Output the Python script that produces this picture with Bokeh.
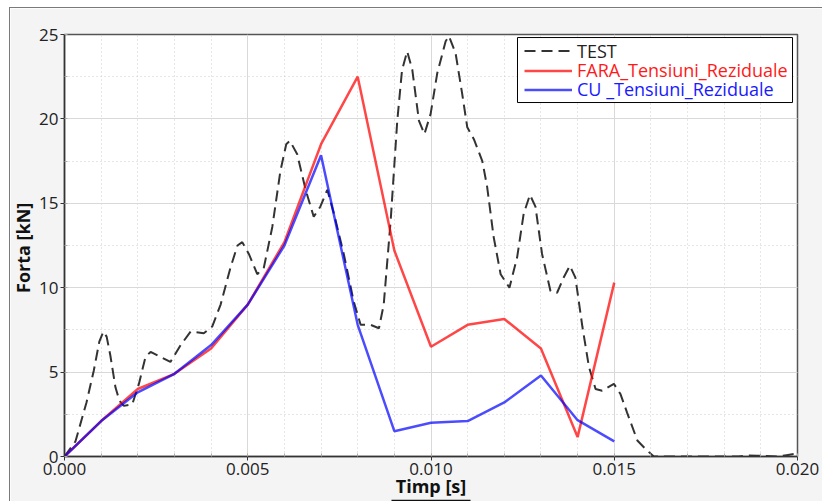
from bokeh.plotting import figure
from bokeh.models import (Legend, LegendItem, BoxAnnotation, FixedTicker,
                          NumeralTickFormatter, Range1d, Title, LinearAxis)
from bokeh.embed import file_html
from bokeh.resources import INLINE

# ---- data ----
fara_t = [0.000, 0.001, 0.002, 0.003, 0.004, 0.005, 0.006, 0.007, 0.008,
          0.009, 0.010, 0.011, 0.012, 0.013, 0.014, 0.015]
fara_f = [0.0, 2.1, 4.0, 4.9, 6.4, 9.0, 12.7, 18.5, 22.5,
          12.2, 6.5, 7.8, 8.15, 6.4, 1.15, 10.3]

cu_t = [0.000, 0.001, 0.002, 0.003, 0.004, 0.005, 0.006, 0.007, 0.008,
        0.009, 0.010, 0.011, 0.012, 0.013, 0.014, 0.015]
cu_f = [0.0, 2.1, 3.8, 4.9, 6.6, 9.0, 12.5, 17.85, 7.8,
        1.5, 2.0, 2.1, 3.2, 4.8, 2.15, 0.9]

test_t = [0.0000, 0.0003, 0.0006, 0.0008, 0.00095, 0.00106, 0.00115, 0.00125,
          0.00139, 0.0015, 0.00162, 0.00185, 0.00203, 0.00221, 0.00235, 0.00262,
          0.00289, 0.00317, 0.00344, 0.0038, 0.00403, 0.00426, 0.00453, 0.00472,
          0.00485, 0.00503, 0.00526, 0.00544, 0.00567, 0.00589, 0.00605, 0.00615,
          0.00635, 0.00658, 0.0068, 0.00698, 0.00717, 0.00735, 0.00762, 0.00789,
          0.00808, 0.00835, 0.00858, 0.00871, 0.0089, 0.00908, 0.00921, 0.00935,
          0.00949, 0.00967, 0.00982, 0.00999, 0.01017, 0.0104, 0.01049, 0.01067,
          0.01085, 0.01099, 0.01117, 0.0114, 0.01153, 0.01171, 0.0119, 0.01214,
          0.01235, 0.01253, 0.0127, 0.01285, 0.01303, 0.01326, 0.01344, 0.01362,
          0.01379, 0.01394, 0.01413, 0.01431, 0.01449, 0.01467, 0.01499, 0.01517,
          0.01535, 0.01563, 0.01585, 0.01608, 0.0184, 0.0186, 0.0189, 0.0195,
          0.0197, 0.0199, 0.0200]
test_f = [0.0, 0.9, 3.2, 5.1, 6.8, 7.4, 7.1, 6.0,
          4.1, 3.3, 3.0, 3.1, 4.3, 5.9, 6.2, 5.9,
          5.6, 6.6, 7.4, 7.3, 7.7, 9.0, 11.2, 12.5,
          12.7, 12.0, 10.8, 11.2, 13.6, 16.9, 18.5, 18.7,
          17.9, 15.8, 14.2, 14.8, 15.8, 14.4, 12.0, 9.2,
          7.8, 7.8, 7.6, 9.0, 14.0, 19.9, 22.9, 24.0,
          22.9, 19.9, 19.1, 20.3, 22.7, 24.6, 24.9, 23.9,
          21.5, 19.5, 18.8, 17.5, 16.0, 13.0, 10.8, 10.0,
          11.8, 14.4, 15.5, 14.8, 12.0, 9.8, 9.7, 10.6,
          11.3, 10.6, 7.7, 5.3, 4.0, 3.9, 4.3, 3.7,
          2.6, 0.95, 0.45, 0.0, 0.0, 0.06, 0.05, 0.0,
          0.08, 0.15, 0.15]

x_ticks = [0.000, 0.005, 0.010, 0.015, 0.020]
y_ticks = [0, 5, 10, 15, 20, 25]
labels = ["TEST", "FARA_Tensiuni_Reziduale", "CU _Tensiuni_Reziduale"]
x_title = "Timp [s]"
y_title = "Forta  [kN]"

FONT = "Open Sans"

p = figure(width=813, height=494, output_backend="svg", toolbar_location=None,
           x_range=Range1d(0, 0.020), y_range=Range1d(0, 25),
           min_border_left=54, min_border_right=26, min_border_top=26,
           min_border_bottom=46,
           background_fill_color="white", border_fill_color="#f4f4f4")
p.margin = (7, 0, 0, 9)
p.styles = {"border-left": "1px solid #7a7a7a", "border-top": "1px solid #7a7a7a"}

p.outline_line_color = "#555555"
p.outline_line_width = 1.5

for ax in (p.xaxis[0], p.yaxis[0]):
    ax.axis_line_color = "#333333"
    ax.axis_line_width = 1.5
    ax.major_tick_out = 4
    ax.major_tick_in = 0
    ax.minor_tick_in = 3
    ax.minor_tick_out = 0
    ax.major_tick_line_color = "#333333"
    ax.minor_tick_line_color = "#aaaaaa"
    ax.major_label_text_font = FONT
    ax.major_label_text_font_size = "17px"
    ax.major_label_text_color = "#222222"
    ax.axis_label_text_font = FONT
    ax.axis_label_text_font_size = "18px"
    ax.axis_label_text_font_style = "bold"
    ax.axis_label_text_color = "#111111"

p.xaxis.ticker = FixedTicker(ticks=x_ticks,
                             minor_ticks=[i * 0.001 for i in range(21)])
p.yaxis.ticker = FixedTicker(ticks=y_ticks,
                             minor_ticks=[i * 2.5 for i in range(11)])
p.xaxis.formatter = NumeralTickFormatter(format="0.000")
p.xaxis.axis_label = x_title
p.xaxis.major_label_standoff = 2
p.yaxis.major_label_standoff = 2
p.xaxis.axis_label_standoff = -4

# underline of the x axis title: a bare axis line limited by bounds
ul = LinearAxis(ticker=FixedTicker(ticks=[]), bounds=(0.008914, 0.011078),
                axis_line_color="#111111", axis_line_width=1.5,
                major_tick_out=0, major_tick_in=0, minor_tick_out=0,
                minor_tick_in=0, major_label_standoff=0,
                axis_label_standoff=0)
p.add_layout(ul, "below")

# y axis title as a side title (rotated)
p.add_layout(Title(text=y_title, align="center", vertical_align="top",
                   text_font=FONT,
                   text_font_size="18px", text_font_style="bold",
                   text_color="#111111", standoff=0, offset=0), "left")

p.xgrid.grid_line_color = "#d9d9d9"
p.ygrid.grid_line_color = "#d9d9d9"
p.xgrid.minor_grid_line_color = "#cccccc"
p.ygrid.minor_grid_line_color = "#cccccc"
p.xgrid.minor_grid_line_dash = "1 3"
p.ygrid.minor_grid_line_dash = "1 3"

r_test = p.line(test_t, test_f, line_color="#333333", line_width=2,
                line_dash="11 6")
r_fara = p.line(fara_t, fara_f, line_color="#ff0000", line_alpha=0.72,
                line_width=2.5)
r_cu = p.line(cu_t, cu_f, line_color="#0000ff", line_alpha=0.7,
              line_width=2.5)

# legend frame
p.add_layout(BoxAnnotation(left=0.01236, right=0.019864, bottom=20.97,
                           top=24.82, fill_color="white", fill_alpha=1,
                           line_color="black", line_width=1, line_alpha=1))

colors = ["#222222", "#ff1a1a", "#1a1aff"]
renderers = [r_test, r_fara, r_cu]
bottoms = [393.3, 374.0, 354.7]
for lab, col, rr, b in zip(labels, colors, renderers, bottoms):
    lg = Legend(items=[LegendItem(label=lab, renderers=[rr])],
                location=(460, b), border_line_alpha=0,
                background_fill_alpha=0, padding=0, margin=0, spacing=0,
                glyph_width=48, glyph_height=19, label_height=19,
                label_standoff=5, label_text_font=FONT,
                label_text_font_size="18px", label_text_color=col)
    p.add_layout(lg)

open("out.html", "w").write(file_html(p, INLINE))
